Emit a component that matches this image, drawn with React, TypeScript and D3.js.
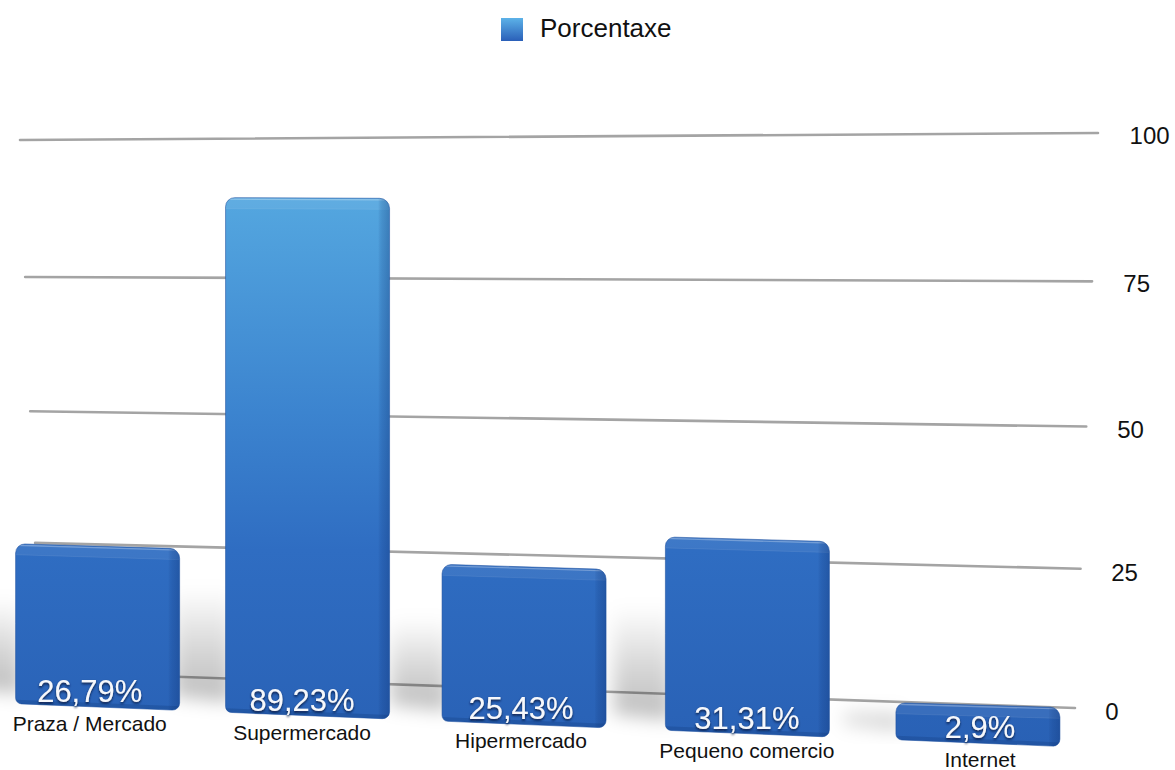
import React from 'react';
import * as d3 from 'd3';

const categories = ['Praza / Mercado', 'Supermercado', 'Hipermercado', 'Pequeno comercio', 'Internet'];
const values = [26.79, 89.23, 25.43, 31.31, 2.9];
const valueLabels = ['26,79%', '89,23%', '25,43%', '31,31%', '2,9%'];
const ticks = [0, 25, 50, 75, 100];
const seriesName = 'Porcentaxe';

type Pt = [number, number];

// projective map of the unit square onto a quad
function quadMap(p00: Pt, p10: Pt, p11: Pt, p01: Pt) {
  const [x0, y0] = p00, [x1, y1] = p10, [x2, y2] = p11, [x3, y3] = p01;
  const dx1 = x1 - x2, dx2 = x3 - x2, dx3 = x0 - x1 + x2 - x3;
  const dy1 = y1 - y2, dy2 = y3 - y2, dy3 = y0 - y1 + y2 - y3;
  const den = dx1 * dy2 - dx2 * dy1;
  const g = (dx3 * dy2 - dx2 * dy3) / den;
  const h = (dx1 * dy3 - dx3 * dy1) / den;
  const a = x1 - x0 + g * x1, b = x3 - x0 + h * x3, c = x0;
  const d = y1 - y0 + g * y1, e = y3 - y0 + h * y3, f = y0;
  return (u: number, v: number): Pt => {
    const w = g * u + h * v + 1;
    return [(a * u + b * v + c) / w, (d * u + e * v + f) / w];
  };
}

function roundedPath(pts: Pt[], radii: number[]) {
  const n = pts.length;
  const p = d3.path();
  const last = pts[n - 1], first = pts[0];
  p.moveTo((last[0] + first[0]) / 2, (last[1] + first[1]) / 2);
  for (let i = 0; i < n; i++) {
    const cur = pts[i], nxt = pts[(i + 1) % n], prv = pts[(i - 1 + n) % n];
    const l1 = Math.hypot(cur[0] - prv[0], cur[1] - prv[1]);
    const l2 = Math.hypot(nxt[0] - cur[0], nxt[1] - cur[1]);
    const r = Math.min(radii[i], l1 / 2 - 0.5, l2 / 2 - 0.5);
    p.arcTo(cur[0], cur[1], nxt[0], nxt[1], Math.max(r, 0));
  }
  p.closePath();
  return p.toString();
}

const poly = (pts: Pt[]) => 'M' + pts.map(q => q[0] + ',' + q[1]).join('L') + 'Z';

export default function App() {
  const W = 1175, H = 770;
  const FONT = '"Liberation Sans", Arial, Helvetica, sans-serif';

  // back wall with gridlines, and front plane of the bars
  const wall = quadMap([40, 672], [1075, 708], [1098, 133], [20, 140]);
  const front = quadMap([-5, 702.8], [1096, 747.9], [1096, 147.9], [-5, 147.8]);

  const xBand = d3.scaleBand<string>().domain(categories).range([0, 1]).paddingInner(0.23).paddingOuter(0.115);
  const vScale = d3.scaleLinear().domain([0, 100]).range([0, 1]);
  const labelX = d3.scaleLinear().domain([0, 1000]).range([-9, 1002.4]);

  const yAt = (v: number, x: number) => {
    const a = front(0, v), b = front(1, v);
    return a[1] + (x - a[0]) * (b[1] - a[1]) / (b[0] - a[0]);
  };

  const halfW = xBand.bandwidth() * 1065 / 2;
  const topDepth = 11;
  const sideW = 11;
  const minFront = 26; // rounded slab keeps a minimum thickness

  const bars = categories.map((cat, i) => {
    const u = (xBand(cat) as number) + xBand.bandwidth() / 2;
    const v = vScale(values[i]);
    const [cx] = front(u, 0);
    const xl = cx - halfW, xr = cx + halfW;
    const ybl = yAt(0, xl), ybr = yAt(0, xr), ybc = yAt(0, cx);
    let ytl = yAt(v, xl), ytr = yAt(v, xr);
    if (ybl - ytl < minFront) { ytl = ybl - minFront; ytr = ybr - minFront - (ybr - ybl) * 0.3; }
    const TLb: Pt = [xl, ytl - topDepth], TRb: Pt = [xr, ytr - topDepth];
    const TL: Pt = [xl, ytl], TR: Pt = [xr, ytr];
    const BR: Pt = [xr, ybr], BL: Pt = [xl, ybl];
    const body = roundedPath([TLb, TRb, BR, BL], [9, 10, 7, 6]);
    const topFace = poly([TLb, TRb, TR, TL]);
    const side = poly([[xr - sideW, ytr - topDepth], [xr, ytr - topDepth], [xr, ybr], [xr - sideW, ybr]]);
    const bottomBand = poly([[xl, ybl - 4], [xr, ybr - 4], [xr, ybr], [xl, ybl]]);
    const barH = ybl - ytl + topDepth;
    const sh = Math.min(barH * 0.6, 115);
    const shadow = poly([[xl + 6, ybl - 10], [xl - 52, ybl - 16], [xl - 52, ybl - 10 - sh], [xl + 6, ybl - 10 - sh]]);
    return { cat, i, cx, ybc, body, topFace, side, bottomBand, shadow, TLb, TRb, TL, TR };
  });

  return (
    <svg width={W} height={H} viewBox={`0 0 ${W} ${H}`}
      style={{ position: 'absolute', left: 0, top: 0, display: 'block', background: '#fff' }}>
      <defs>
        <linearGradient id="barGrad" gradientUnits="userSpaceOnUse" x1="0" y1="190" x2="0" y2="745">
          <stop offset="0" stopColor="#55a8e0" />
          <stop offset="0.4" stopColor="#3c84cf" />
          <stop offset="0.65" stopColor="#2f6dc2" />
          <stop offset="1" stopColor="#2961b5" />
        </linearGradient>
        <linearGradient id="legendGrad" x1="0" y1="0" x2="0" y2="1">
          <stop offset="0" stopColor="#5cb2e8" />
          <stop offset="1" stopColor="#2a5fb8" />
        </linearGradient>
        <linearGradient id="sideGrad" x1="0" y1="0" x2="1" y2="0">
          <stop offset="0" stopColor="#0b2c6b" stopOpacity="0.05" />
          <stop offset="0.3" stopColor="#0b2c6b" stopOpacity="0.16" />
          <stop offset="1" stopColor="#0b2c6b" stopOpacity="0.32" />
        </linearGradient>
        <linearGradient id="shadowGrad" x1="0" y1="0" x2="0" y2="1">
          <stop offset="0" stopColor="#000" stopOpacity="0" />
          <stop offset="0.55" stopColor="#000" stopOpacity="0.16" />
          <stop offset="1" stopColor="#000" stopOpacity="0.26" />
        </linearGradient>
        <filter id="blur" x="-60%" y="-60%" width="220%" height="220%">
          <feGaussianBlur stdDeviation="9" />
        </filter>
        <filter id="ts" x="-10%" y="-30%" width="120%" height="170%">
          <feDropShadow dx="0" dy="1.6" stdDeviation="1.3" floodColor="#081d45" floodOpacity="1" />
        </filter>
        {bars.map(b => (
          <clipPath key={'c' + b.i} id={'clip' + b.i}><path d={b.body} /></clipPath>
        ))}
      </defs>

      {/* legend */}
      <rect x={501} y={18} width={22} height={23} fill="url(#legendGrad)" />
      <text x={540} y={37} fontFamily={FONT} fontSize={26} fill="#111">{seriesName}</text>

      {/* gridlines on back wall */}
      {ticks.map(t => {
        const a = wall(0, vScale(t)), b = wall(1, vScale(t));
        return <line key={'g' + t} x1={a[0]} y1={a[1]} x2={b[0]} y2={b[1]} stroke="#a4a4a4" strokeWidth={2.6} strokeLinecap="round" />;
      })}
      {ticks.map(t => {
        const p = wall(1.027, vScale(t));
        return <text key={'t' + t} x={p[0]} y={p[1] + 11} fontFamily={FONT} fontSize={24} fill="#111">{t}</text>;
      })}

      {/* shadows */}
      {bars.map(b => (
        <path key={'s' + b.i} d={b.shadow} fill="url(#shadowGrad)" filter="url(#blur)" />
      ))}

      {/* bars */}
      {bars.map(b => (
        <g key={'b' + b.i}>
          <path d={b.body} fill="url(#barGrad)" />
          <g clipPath={`url(#clip${b.i})`}>
            <path d={b.topFace} fill="#ffffff" fillOpacity={0.07} />
            <line x1={b.TL[0]} y1={b.TL[1]} x2={b.TR[0]} y2={b.TR[1]} stroke="#ffffff" strokeOpacity={0.08} strokeWidth={1} />
            <line x1={b.TLb[0]} y1={b.TLb[1] + 1.5} x2={b.TRb[0]} y2={b.TRb[1] + 1.5} stroke="#ffffff" strokeOpacity={0.28} strokeWidth={1.4} />
            <path d={b.side} fill="url(#sideGrad)" />
            <path d={b.bottomBand} fill="#0b2c6b" fillOpacity={0.22} />
          </g>
          <path d={b.body} fill="none" stroke="#1d4f9e" strokeOpacity={0.7} strokeWidth={0.8} />
        </g>
      ))}

      {/* value labels */}
      {bars.map(b => (
        <text key={'v' + b.i} x={labelX(b.cx)} y={b.ybc - 5} textAnchor="middle" fontFamily={FONT}
          fontSize={31} fill="#f6f8fc" filter="url(#ts)">{valueLabels[b.i]}</text>
      ))}

      {/* category labels */}
      {bars.map(b => (
        <text key={'l' + b.i} x={labelX(b.cx)} y={b.ybc + 24} textAnchor="middle" fontFamily={FONT}
          fontSize={21} fill="#111">{b.cat}</text>
      ))}
    </svg>
  );
}
